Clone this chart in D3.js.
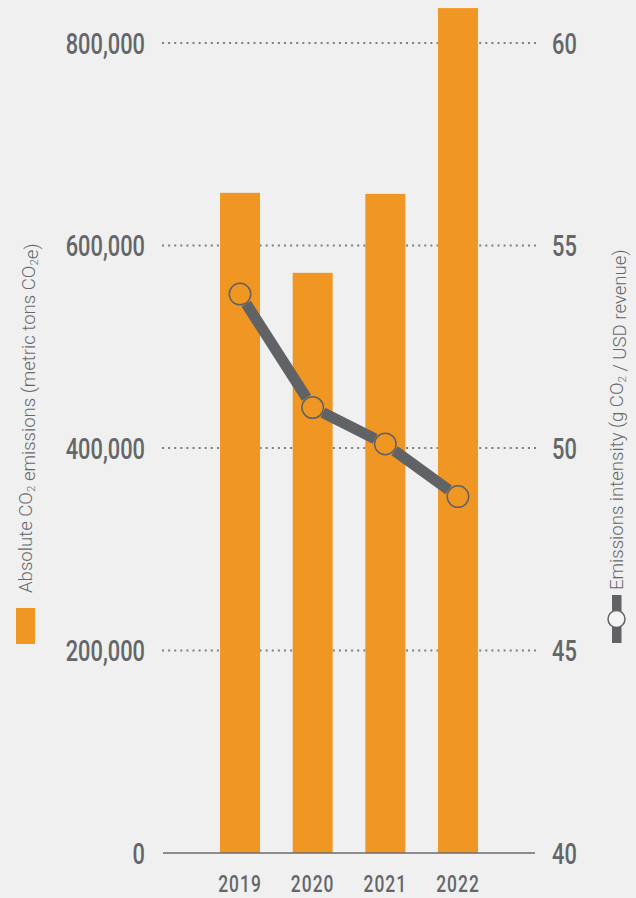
<!DOCTYPE html>
<html>
<head>
<meta charset="utf-8">
<script src="https://cdn.jsdelivr.net/npm/d3@7"></script>
<style>
  html, body { margin: 0; padding: 0; background: #f0f0f0; }
  svg { display: block; }
</style>
</head>
<body>
<script>
const w = 636
const h = 898

// Data
const years = ["2019", "2020", "2021", "2022"]
const absoluteEmissions = [652000, 573000, 651000, 834500]   // metric tons CO2e
const emissionsIntensity = [53.8, 51.0, 50.1, 48.8]          // g CO2 / USD revenue
const leftTicks = [0, 200000, 400000, 600000, 800000]
const rightTicks = [40, 45, 50, 55, 60]

const barColor = "#ef9623"
const lineColor = "#606265"
const textColor = "#646669"

const svg = d3.select("body")
              .append("svg")
              .attr("width", w)
              .attr("height", h)
              .style("background", "#f0f0f0")

const x = d3.scaleBand()
            .domain(years)
            .range([163, 535])
            .paddingInner(0.45)
            .paddingOuter(0.785)

const yLeft = d3.scaleLinear().domain([0, 800000]).range([853, 43])
const yRight = d3.scaleLinear().domain([40, 60]).range([853, 43])

// dotted gridlines
svg.append("g")
    .selectAll("line")
    .data(leftTicks.filter(d => d > 0))
    .enter()
    .append("line")
      .attr("x1", 162)
      .attr("x2", 536)
      .attr("y1", d => yLeft(d))
      .attr("y2", d => yLeft(d))
      .attr("stroke", "#7d7f82")
      .attr("stroke-width", 2)
      .attr("stroke-dasharray", "2,4.1")

// bars
svg.append("g")
    .selectAll("rect")
    .data(years)
    .enter()
    .append("rect")
      .attr("x", d => x(d))
      .attr("width", x.bandwidth())
      .attr("y", (d, i) => yLeft(absoluteEmissions[i]))
      .attr("height", (d, i) => yLeft(0) - yLeft(absoluteEmissions[i]))
      .attr("fill", barColor)

// baseline
svg.append("line")
    .attr("x1", 163)
    .attr("x2", 535)
    .attr("y1", yLeft(0))
    .attr("y2", yLeft(0))
    .attr("stroke", "#6c6d70")
    .attr("stroke-width", 1.6)

// intensity line, segments stop at the circle edge
const r = 11.5
const pts = years.map((d, i) => [x(d) + x.bandwidth() / 2, yRight(emissionsIntensity[i])])
const segs = d3.pairs(pts)

svg.append("g")
    .selectAll("line")
    .data(segs)
    .enter()
    .append("line")
      .each(function([a, b]) {
        const dx = b[0] - a[0], dy = b[1] - a[1]
        const len = Math.hypot(dx, dy)
        const ux = dx / len, uy = dy / len
        d3.select(this)
          .attr("x1", a[0] + ux * r)
          .attr("y1", a[1] + uy * r)
          .attr("x2", b[0] - ux * r)
          .attr("y2", b[1] - uy * r)
      })
      .attr("stroke", lineColor)
      .attr("stroke-width", 11)

svg.append("g")
    .selectAll("circle")
    .data(pts)
    .enter()
    .append("circle")
      .attr("cx", d => d[0])
      .attr("cy", d => d[1])
      .attr("r", r - 0.75)
      .attr("fill", "none")
      .attr("stroke", lineColor)
      .attr("stroke-width", 1.5)

// condensed numeric labels
const condensed = 0.74
const numFont = "Roboto, 'DejaVu Sans', sans-serif"

svg.append("g")
    .selectAll("text")
    .data(leftTicks)
    .enter()
    .append("text")
      .attr("transform", d => `translate(145, ${yLeft(d)}) scale(${condensed}, 1)`)
      .attr("text-anchor", "end")
      .attr("dy", "0.36em")
      .attr("font-family", numFont)
      .attr("font-weight", 500)
      .attr("font-size", 29.5)
      .attr("fill", textColor)
      .text(d => d3.format(",")(d))

svg.append("g")
    .selectAll("text")
    .data(rightTicks)
    .enter()
    .append("text")
      .attr("transform", d => `translate(552, ${yRight(d)}) scale(${condensed}, 1)`)
      .attr("text-anchor", "start")
      .attr("dy", "0.36em")
      .attr("font-family", numFont)
      .attr("font-weight", 500)
      .attr("font-size", 29.5)
      .attr("fill", textColor)
      .text(d => d)

svg.append("g")
    .selectAll("text")
    .data(years)
    .enter()
    .append("text")
      .attr("transform", d => `translate(${x(d) + x.bandwidth() / 2}, 892) scale(${condensed}, 1)`)
      .attr("text-anchor", "middle")
      .attr("font-family", numFont)
      .attr("font-weight", 500)
      .attr("font-size", 23.5)
      .attr("letter-spacing", 1.4)
      .attr("fill", textColor)
      .text(d => d)

// axis titles with subscripts
const titleFont = "Roboto, 'Open Sans', sans-serif"
const addTitle = (xPos, yPos, parts) => {
  const t = svg.append("text")
                .attr("transform", `translate(${xPos}, ${yPos}) rotate(-90)`)
                .attr("font-family", titleFont)
                .attr("font-weight", 300)
                .attr("font-size", 18.6)
                .attr("fill", "#66686b")
  parts.forEach(p => {
    if (p === "2") {
      t.append("tspan").attr("dy", "0.25em").attr("font-size", "0.62em").text("2")
      t.append("tspan").attr("dy", "-0.25em").text("")
    } else {
      t.append("tspan").text(p)
    }
  })
}
addTitle(32, 593, ["Absolute CO", "2", " emissions (metric tons CO", "2", "e)"])
addTitle(623, 590, ["Emissions intensity (g CO", "2", " / USD revenue)"])

// legend keys
svg.append("rect")
    .attr("x", 16).attr("y", 608)
    .attr("width", 19).attr("height", 36)
    .attr("fill", barColor)

svg.append("rect")
    .attr("x", 612).attr("y", 595)
    .attr("width", 9.5).attr("height", 48)
    .attr("fill", lineColor)

svg.append("circle")
    .attr("cx", 616.5).attr("cy", 619)
    .attr("r", 8.5)
    .attr("fill", "#f4f4f4")
    .attr("stroke", lineColor)
    .attr("stroke-width", 1.5)
</script>
</body>
</html>
